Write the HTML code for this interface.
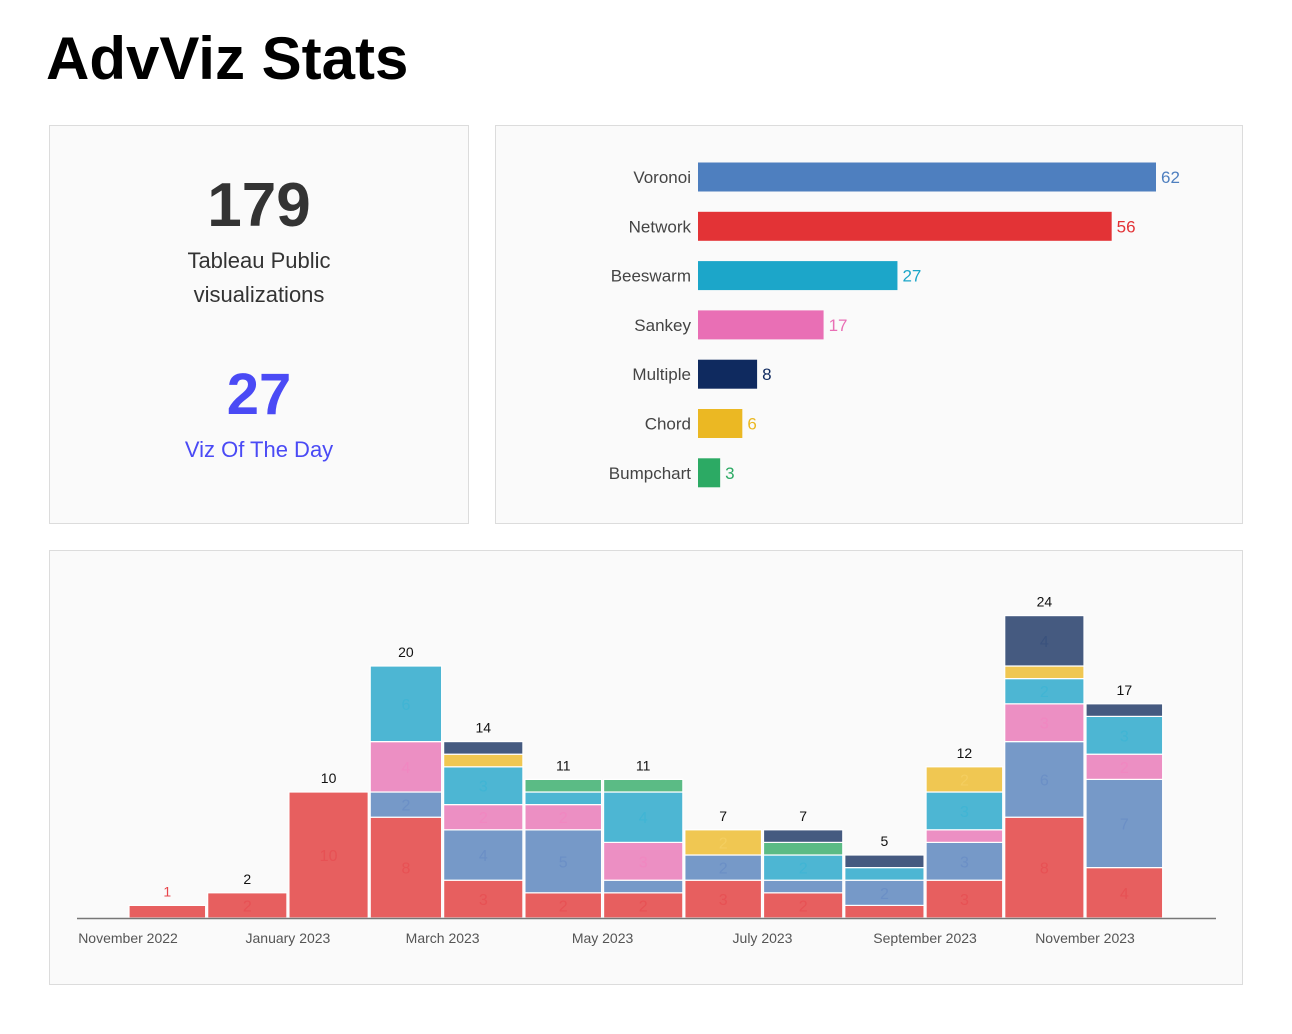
<!DOCTYPE html>
<html><head><meta charset="utf-8">
<style>
html,body{margin:0;padding:0;background:#fff;width:1292px;height:1034px;overflow:hidden;font-family:"Liberation Sans",sans-serif;}
.panel{position:absolute;background:#fafafa;border:1.5px solid #dcdcdc;box-sizing:border-box;}
</style></head>
<body>
<div style="position:absolute;left:46px;top:24px;font-size:60px;font-weight:bold;color:#000;">AdvViz Stats</div>

<div class="panel" style="left:49px;top:125px;width:420px;height:399px;"></div>
<div class="panel" style="left:495px;top:125px;width:748px;height:399px;"></div>
<div class="panel" style="left:49px;top:550px;width:1194px;height:435px;"></div>

<svg id="svg" width="1292" height="1034" style="position:absolute;left:0;top:0;font-family:'Liberation Sans',sans-serif;">
  <text x="259" y="226" text-anchor="middle" font-size="62" font-weight="bold" fill="#333">179</text>
  <text x="259" y="268" text-anchor="middle" font-size="22" fill="#333">Tableau Public</text>
  <text x="259" y="302" text-anchor="middle" font-size="22" fill="#333">visualizations</text>
  <text x="259" y="414" text-anchor="middle" font-size="58" font-weight="bold" fill="#4a4af5">27</text>
  <text x="259" y="457" text-anchor="middle" font-size="22" fill="#4a4af5">Viz Of The Day</text>
</svg>

<script>
const NS='http://www.w3.org/2000/svg';
const svg=document.getElementById('svg');
function mk(tag,attrs,parent){const e=document.createElementNS(NS,tag);for(const k in attrs)e.setAttribute(k,attrs[k]);(parent||svg).appendChild(e);return e;}

// ---- Horizontal bar chart data ----
const typeNames=['Voronoi','Network','Beeswarm','Sankey','Multiple','Chord','Bumpchart'];
const typeCounts=[62,56,27,17,8,6,3];
const typeColors=['#4e7fbf','#e33336','#1ca6c9','#e96fb5','#0f2a5f','#ebb823','#2caa64'];

const hx0=698, hxPerUnit=458/62, hy0=177, hStep=49.3, hH=29;
const hx=v=>hx0+v*hxPerUnit;
typeNames.forEach((n,i)=>{
  const cy=hy0+i*hStep;
  const r=mk('rect',{x:hx0,y:cy-hH/2,width:hx(typeCounts[i])-hx0,height:hH,fill:typeColors[i]});
  
  
  const t=mk('text',{x:hx0-7,y:cy+6,'text-anchor':'end','font-size':17,fill:'#444'});
  t.textContent=n;
  
  
  const v=mk('text',{x:hx(typeCounts[i])+5,y:cy+6,'font-size':17,fill:typeColors[i]});
  v.textContent=typeCounts[i];
  
  
});

// ---- Stacked monthly chart data ----
const months=['2022-11','2022-12','2023-01','2023-02','2023-03','2023-04','2023-05','2023-06','2023-07','2023-08','2023-09','2023-10','2023-11'];
const seriesNames=['Network','Voronoi','Sankey','Beeswarm','Bumpchart','Chord','Multiple'];
const network  =[1,2,10,8,3,2,2,3,2,1,3,8,4];
const voronoi  =[0,0,0,2,4,5,1,2,1,2,3,6,7];
const sankey   =[0,0,0,4,2,2,3,0,0,0,1,3,2];
const beeswarm =[0,0,0,6,3,1,4,0,2,1,3,2,3];
const bumpchart=[0,0,0,0,0,1,1,0,1,0,0,0,0];
const chord    =[0,0,0,0,1,0,0,2,0,0,2,1,0];
const multiple =[0,0,0,0,1,0,0,0,1,1,0,4,1];
const tickLabels=['November 2022','January 2023','March 2023','May 2023','July 2023','September 2023','November 2023'];
const tickDates=['2022-11','2023-01','2023-03','2023-05','2023-07','2023-09','2023-11'];

const seriesData=[network,voronoi,sankey,beeswarm,bumpchart,chord,multiple];
const segColors=['#e75f5f','#7699c8','#ec8fc3','#4db6d3','#5bbb85','#f0c752','#455a80'];
const labColors=['#e8444a','#5f86c4','#f57fc0','#33b3d6','#3fae6f','#f7d56e','#2f4a7a'];

const base=new Date(2022,10,1).getTime(), pxPerDay=957/365, bx0=128;
function xDate(s){const [y,m]=s.split('-').map(Number);return bx0+(new Date(y,m-1,1).getTime()-base)/86400000*pxPerDay;}
function nextMonth(s){let [y,m]=s.split('-').map(Number);m++;if(m>12){m=1;y++;}return y+'-'+String(m).padStart(2,'0');}
const y0=918, pxPerUnit=12.6;
const yv=v=>y0-v*pxPerUnit;

months.forEach((mo,i)=>{
  const xa=xDate(mo)+1, xb=xDate(nextMonth(mo))-1;
  let acc=0;
  seriesData.forEach((arr,s)=>{
    const v=arr[i]; if(!v) return;
    const r=mk('rect',{x:xa,y:yv(acc+v),width:xb-xa,height:v*pxPerUnit,fill:segColors[s],stroke:'#fff','stroke-width':1.2});
    
    
    if(v>=2){
      const t=mk('text',{x:(xa+xb)/2,y:yv(acc+v/2)+6,'text-anchor':'middle','font-size':16,fill:labColors[s],'fill-opacity':0.5});
      t.textContent=v;
      
      
    }
    acc+=v;
  });
  const tt=mk('text',{x:(xa+xb)/2,y:yv(acc)-9,'text-anchor':'middle','font-size':14,fill:acc===1?'#e8444a':'#111'});
  tt.textContent=acc;
  
  
});
const ax=mk('line',{x1:77,x2:1216,y1:y0+0.5,y2:y0+0.5,stroke:'#777','stroke-width':1.5});


tickLabels.forEach((l,i)=>{
  const t=mk('text',{x:xDate(tickDates[i]),y:943,'text-anchor':'middle','font-size':14,fill:'#555'});
  t.textContent=l;
  
  
});
</script>
</body></html>
